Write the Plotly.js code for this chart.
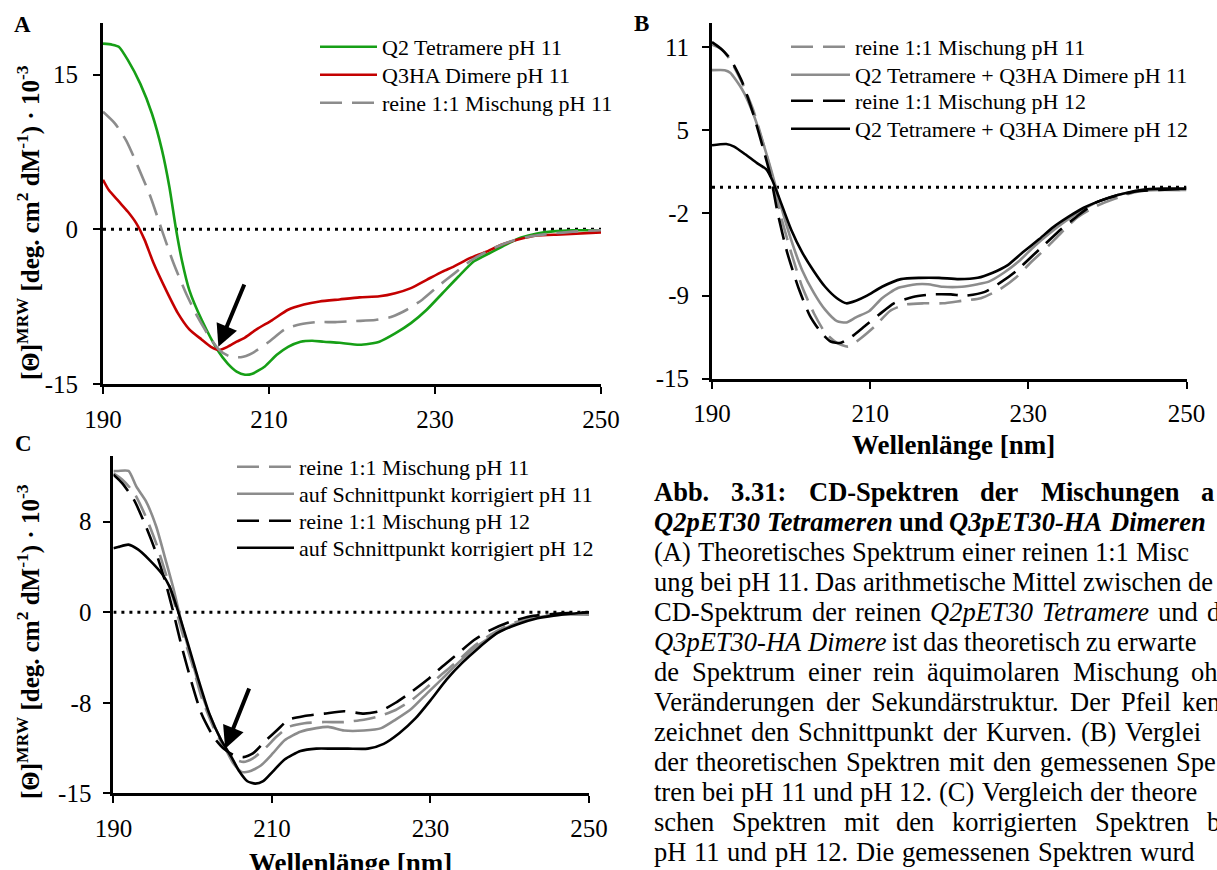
<!DOCTYPE html>
<html>
<head>
<meta charset="utf-8">
<script src="https://cdn.plot.ly/plotly-3.0.1.min.js"></script>
<style>
  html, body { margin: 0; padding: 0; background: #fff; }
  #chart { width: 1217px; height: 870px; }
</style>
</head>
<body>
<div id="chart"></div>
<script>
// ---------------- DATA ----------------
const xTickVals = [190, 210, 230, 250];
const xTickText = ['190', '210', '230', '250'];
const aYTickVals = [-15, 0, 15];
const aYTickText = ['-15', '0', '15'];
const bYTickVals = [-15, -8.5, -2, 4.5, 11];
const bYTickText = ['-15', '-9', '-2', '5', '11'];
const cYTickVals = [-15, -7.5, 0, 7.5];
const cYTickText = ['-15', '-8', '0', '8'];
const zeroX = [190, 250];
const zeroY = [0, 0];

// Panel A
const aQ2X = [190,191.1,191.9,193.0,194.5,195.9,197.1,198.0,198.8,199.5,200.4,201.9,203.8,205.0,206.1,207.1,208.0,209.5,210.9,212.3,213.8,215.2,216.6,218.5,220.9,223.3,225.2,227.1,229.0,230.9,232.8,234.7,236.6,238.5,240.4,242.3,244.2,246.6,250];
const aQ2Y = [18.0,17.9,17.7,16.4,14.1,11.2,7.7,4.1,0,-3.0,-5.9,-8.8,-11.7,-13.0,-13.8,-14.1,-14.0,-13.3,-12.2,-11.4,-10.9,-10.8,-10.9,-11.0,-11.2,-10.9,-10.1,-9.1,-7.8,-6.2,-4.6,-3.1,-2.3,-1.5,-0.8,-0.4,-0.2,-0.1,-0.1];
const aQ3X = [190,190.7,191.9,193.0,194.0,195.0,196.1,197.6,199.0,200.4,201.9,203.0,204.0,205.0,206.1,207.1,208.5,210.4,212.3,214.2,216.1,218.5,220.9,223.3,225.2,227.1,229.0,230.9,232.3,234.2,236.1,238.0,240.0,242.3,245.2,250];
const aQ3Y = [4.8,3.8,2.7,1.7,0.6,-1.0,-3.3,-5.9,-8.1,-9.7,-10.7,-11.4,-11.7,-11.4,-10.9,-10.5,-9.7,-8.8,-7.8,-7.3,-7.0,-6.8,-6.6,-6.5,-6.2,-5.7,-4.9,-4.1,-3.6,-2.8,-2.2,-1.5,-1.0,-0.6,-0.5,-0.3];
const aMixX = [190,191.4,192.8,194.2,195.7,197.1,198.5,200.0,201.4,202.8,204.0,205.2,206.6,208.0,210.0,211.9,213.8,215.7,218.0,220.4,222.8,224.7,226.6,228.5,230.4,232.3,234.2,236.6,239.0,241.4,244.2,247.1,250];
const aMixY = [11.4,10.3,8.6,6.1,3.2,-0.1,-3.3,-6.2,-8.5,-10.4,-11.7,-12.3,-12.4,-12.0,-10.9,-9.7,-9.2,-9.0,-9.0,-8.9,-8.8,-8.5,-7.8,-6.8,-5.5,-4.3,-3.1,-2.0,-1.2,-0.7,-0.4,-0.2,-0.1];

// Panel B
const bMix11X = [190,191.3,192.3,193.8,195.2,196.6,197.6,198.6,200.0,201.4,202.9,204.3,205.8,207.2,208.7,210.6,212.5,214.4,216.8,219.2,221.6,224.0,226.4,228.4,230.3,232.2,234.1,236.1,238.5,240.9,243.3,245.7,250];
const bMix11Y = [11.2,10.8,10.0,8.2,6.1,3.2,0.9,-2.0,-5.1,-7.8,-9.9,-11.4,-12.2,-12.5,-11.9,-10.9,-9.7,-9.2,-9.1,-9.1,-8.9,-8.7,-8.0,-7.1,-5.9,-4.8,-3.6,-2.4,-1.5,-0.9,-0.4,-0.2,-0.2];
const bMeas11X = [190,191.6,192.3,193.8,195.2,196.6,197.6,198.6,200.0,201.4,202.9,204.3,205.8,207.0,208.2,209.9,211.5,213.5,215.9,217.3,219.2,221.6,223.6,225.0,226.9,228.8,230.8,232.7,234.6,236.5,238.9,241.3,243.8,246.6,250];
const bMeas11Y = [9.2,9.2,9.0,7.7,5.8,3.2,1.1,-1.2,-4.1,-6.5,-8.3,-9.6,-10.5,-10.6,-10.2,-9.7,-8.7,-7.9,-7.6,-7.6,-7.8,-7.8,-7.6,-7.4,-6.7,-5.8,-4.6,-3.6,-2.7,-1.9,-1.1,-0.6,-0.3,-0.2,-0.2];
const bMix12X = [190,191.1,192.3,193.8,195.2,196.4,197.4,198.3,199.5,201.0,202.4,203.8,205.0,206.3,207.7,209.1,211.1,213.0,215.4,217.8,220.2,222.1,224.5,226.4,228.4,230.3,232.2,234.1,236.1,238.5,240.9,243.8,246.6,250];
const bMix12Y = [11.4,10.9,10.1,8.3,5.8,3.2,0.9,-2.0,-5.1,-8.0,-10.1,-11.4,-12.1,-12.2,-11.7,-11.0,-10.0,-9.1,-8.6,-8.4,-8.4,-8.5,-8.2,-7.5,-6.6,-5.5,-4.4,-3.3,-2.3,-1.2,-0.7,-0.3,-0.2,-0.1];
const bMeas12X = [190,191.8,192.8,194.2,195.7,196.9,197.6,198.6,200.0,201.4,202.9,204.3,205.8,207.0,208.2,209.6,211.5,213.9,216.3,218.7,221.2,223.6,225.5,227.4,229.3,231.3,233.2,235.1,237.0,238.9,241.3,244.2,247.1,250];
const bMeas12Y = [3.3,3.4,3.2,2.6,1.9,1.4,0.6,-1.0,-3.3,-5.1,-6.6,-7.8,-8.7,-9.1,-8.9,-8.5,-7.8,-7.2,-7.1,-7.1,-7.2,-7.1,-6.7,-6.1,-5.1,-4.1,-3.1,-2.3,-1.6,-1.1,-0.6,-0.2,-0.1,-0.1];

// Panel C
const cMix11X = [190,191.1,192.6,194.1,195.4,196.6,197.6,198.6,199.9,201.1,202.6,203.9,205.1,206.4,207.6,209.1,210.6,212.1,214.1,216.6,219.1,221.6,223.6,225.6,227.6,229.6,231.5,233.5,235.5,237.5,240.0,242.5,245.5,250];
const cMix11Y = [11.5,11.0,9.9,7.9,5.7,3.2,1.0,-1.5,-4.2,-7.0,-9.5,-11.1,-12.1,-12.4,-12.1,-11.3,-10.3,-9.5,-9.2,-9.1,-9.1,-8.9,-8.6,-8.1,-7.3,-6.2,-5.1,-4.0,-2.8,-1.9,-1.0,-0.5,-0.2,-0.1];
const cKor11X = [190,190.6,191.9,192.9,194.1,195.4,196.6,197.6,198.6,199.9,201.1,202.6,203.9,205.1,206.1,207.1,208.6,210.1,211.6,213.6,215.6,217.1,219.1,221.6,223.8,225.6,227.6,229.6,231.5,233.5,235.5,238.0,240.5,243.0,246.5,250];
const cKor11Y = [11.7,11.7,11.7,10.4,9.2,7.1,4.3,1.9,-0.9,-4.0,-6.7,-9.2,-11.0,-12.5,-13.2,-13.2,-12.7,-11.7,-10.6,-9.9,-9.6,-9.5,-9.8,-9.8,-9.6,-8.9,-8.0,-6.7,-5.5,-4.2,-3.0,-1.9,-1.0,-0.5,-0.2,-0.2];
const cMix12X = [190,191.1,192.6,194.1,195.4,196.6,197.6,198.6,199.9,201.1,202.6,203.9,205.1,206.4,207.6,209.1,210.6,212.1,214.1,216.6,219.1,221.6,223.6,225.6,227.6,229.6,231.5,233.5,235.5,237.5,240.0,243.0,246.5,250];
const cMix12Y = [11.4,10.7,9.3,7.1,4.9,2.4,-0.1,-2.8,-5.9,-8.4,-10.3,-11.3,-11.8,-12.0,-11.7,-10.7,-9.8,-8.9,-8.6,-8.4,-8.2,-8.4,-8.2,-7.5,-6.6,-5.6,-4.5,-3.4,-2.3,-1.5,-0.8,-0.3,-0.1,0];
const cKor12X = [190,190.6,191.9,193.1,194.6,196.1,197.1,198.1,199.4,200.6,202.1,203.6,204.9,205.9,206.9,207.9,208.9,210.1,211.6,213.6,215.6,217.6,219.6,222.1,224.1,226.1,228.1,230.0,232.0,234.0,236.0,238.5,241.0,243.5,246.5,250];
const cKor12Y = [5.3,5.4,5.6,5.2,4.3,3.2,2.1,0.2,-2.6,-5.3,-8.4,-10.6,-12.0,-13.2,-14.0,-14.2,-14.0,-13.2,-12.2,-11.5,-11.3,-11.3,-11.3,-11.3,-10.9,-10.0,-8.8,-7.3,-5.6,-4.2,-3.0,-1.7,-1.0,-0.5,-0.2,0];

// Arrows (tail -> tip), data units
const arrowA = {tailX: 207.1, tailY: -5.2, tipX: 203.9, tipY: -11.4};
const arrowC = {tailX: 207.2, tailY: -6.2, tipX: 204.1, tipY: -11.3};

// Legend labels
const legendA = ['Q2 Tetramere pH 11', 'Q3HA Dimere pH 11', 'reine 1:1 Mischung pH 11'];
const legendB = ['reine 1:1 Mischung pH 11', 'Q2 Tetramere + Q3HA Dimere pH 11', 'reine 1:1 Mischung pH 12', 'Q2 Tetramere + Q3HA Dimere pH 12'];
const legendC = ['reine 1:1 Mischung pH 11', 'auf Schnittpunkt korrigiert pH 11', 'reine 1:1 Mischung pH 12', 'auf Schnittpunkt korrigiert pH 12'];

const yTitleText = '<b>[Θ]<sup>MRW</sup> [deg. cm<sup>2</sup> dM<sup>-1</sup>) · 10<sup>-3</sup></b>';
const xTitleText = '<b>Wellenlänge [nm]</b>';

// Caption lines: prefix b: bold, bi: bold italic, i: italic
const captionLines = [
  ['b:Abb.', 'b:3.31:', 'b:CD-Spektren', 'b:der', 'b:Mischungen', 'b:a'],
  ['bi:Q2pET30', 'bi:Tetrameren', 'b:und', 'bi:Q3pET30-HA', 'bi:Dimeren'],
  ['(A)', 'Theoretisches', 'Spektrum', 'einer', 'reinen', '1:1', 'Misc'],
  ['ung', 'bei', 'pH', '11.', 'Das', 'arithmetische', 'Mittel', 'zwischen', 'de'],
  ['CD-Spektrum', 'der', 'reinen', 'i:Q2pET30', 'i:Tetramere', 'und', 'd'],
  ['i:Q3pET30-HA', 'i:Dimere', 'ist', 'das', 'theoretisch', 'zu', 'erwarte'],
  ['de', 'Spektrum', 'einer', 'rein', 'äquimolaren', 'Mischung', 'oh'],
  ['Veränderungen', 'der', 'Sekundärstruktur.', 'Der', 'Pfeil', 'ken'],
  ['zeichnet', 'den', 'Schnittpunkt', 'der', 'Kurven.', '(B)', 'Verglei'],
  ['der', 'theoretischen', 'Spektren', 'mit', 'den', 'gemessenen', 'Spe'],
  ['tren', 'bei', 'pH', '11', 'und', 'pH', '12.', '(C)', 'Vergleich', 'der', 'theore'],
  ['schen', 'Spektren', 'mit', 'den', 'korrigierten', 'Spektren', 'b'],
  ['pH', '11', 'und', 'pH', '12.', 'Die', 'gemessenen', 'Spektren', 'wurd']
];
const captionLastWordX = [1200, 1108, 1135, 1186.5, 1205.6, 1112.4, 1190.3, 1180.8, 1123.8, 1175.1, 1129.5, 1205.6, 1139];

// ---------------- LAYOUT HELPERS ----------------
const W = 1217, H = 870;
const px = v => v / W;
const py = v => 1 - v / H;
const FONT = 'Liberation Serif, serif';
const GREEN = '#169f16', RED = '#c40000', GREY = '#8c8c8c', BLACK = '#000000';
const DASH = '22px,10px';

function line(x, y, xa, ya, color, dash, width, name, legendId) {
  return {
    type: 'scatter', mode: 'lines', x: x, y: y, xaxis: xa, yaxis: ya, name: name,
    line: {color: color, width: width, dash: dash, shape: 'spline', smoothing: 0.6},
    showlegend: !!legendId, legend: legendId || 'legend', hoverinfo: 'skip'
  };
}
function zero(xa, ya) {
  return {type: 'scatter', mode: 'lines', x: zeroX, y: zeroY, xaxis: xa, yaxis: ya,
    line: {color: BLACK, width: 3, dash: '3px,5px'}, showlegend: false, hoverinfo: 'skip'};
}

const traces = [
  zero('x', 'y'), zero('x2', 'y2'), zero('x3', 'y3'),
  line(aQ2X, aQ2Y, 'x', 'y', GREEN, 'solid', 2.6, legendA[0], 'legend'),
  line(aQ3X, aQ3Y, 'x', 'y', RED, 'solid', 2.6, legendA[1], 'legend2'),
  line(aMixX, aMixY, 'x', 'y', GREY, DASH, 2.6, legendA[2], 'legend3'),
  line(bMix11X, bMix11Y, 'x2', 'y2', GREY, DASH, 2.6, legendB[0], 'legend4'),
  line(bMeas11X, bMeas11Y, 'x2', 'y2', GREY, 'solid', 2.6, legendB[1], 'legend5'),
  line(bMix12X, bMix12Y, 'x2', 'y2', BLACK, DASH, 2.6, legendB[2], 'legend6'),
  line(bMeas12X, bMeas12Y, 'x2', 'y2', BLACK, 'solid', 2.6, legendB[3], 'legend7'),
  line(cMix11X, cMix11Y, 'x3', 'y3', GREY, DASH, 2.6, legendC[0], 'legend8'),
  line(cKor11X, cKor11Y, 'x3', 'y3', GREY, 'solid', 2.6, legendC[1], 'legend9'),
  line(cMix12X, cMix12Y, 'x3', 'y3', BLACK, DASH, 2.6, legendC[2], 'legend10'),
  line(cKor12X, cKor12Y, 'x3', 'y3', BLACK, 'solid', 2.6, legendC[3], 'legend11')
];

function xAxis(domain, anchor, standoff) {
  return {domain: domain, anchor: anchor, range: [190, 250], tickmode: 'array',
    tickvals: xTickVals, ticktext: xTickText, showline: true, linecolor: BLACK, linewidth: 3,
    ticks: 'outside', ticklen: 7, tickwidth: 2, tickcolor: BLACK, showgrid: false, zeroline: false,
    ticklabelstandoff: standoff, tickfont: {family: FONT, size: 25, color: BLACK}, fixedrange: true};
}
function yAxis(domain, anchor, range, vals, text, standoff) {
  return {domain: domain, anchor: anchor, range: range, tickmode: 'array',
    tickvals: vals, ticktext: text, showline: true, linecolor: BLACK, linewidth: 3,
    ticks: 'outside', ticklen: 7, tickwidth: 2, tickcolor: BLACK, showgrid: false, zeroline: false,
    ticklabelstandoff: standoff, tickfont: {family: FONT, size: 25, color: BLACK}, fixedrange: true};
}

const layout = {
  width: W, height: H, margin: {l: 0, r: 0, t: 0, b: 0},
  paper_bgcolor: '#ffffff', plot_bgcolor: 'rgba(0,0,0,0)',
  font: {family: FONT, color: BLACK},
  xaxis: xAxis([px(103), px(601)], 'y', 4),
  yaxis: yAxis([py(384), py(23)], 'x', [-15, 20], aYTickVals, aYTickText, 10),
  xaxis2: xAxis([px(712), px(1186.5)], 'y2', 3),
  yaxis2: yAxis([py(378.5), py(23)], 'x2', [-15, 12.9], bYTickVals, bYTickText, 8),
  xaxis3: xAxis([px(113.4), px(589)], 'y3', 4),
  yaxis3: yAxis([py(793.3), py(456)], 'x3', [-15, 12.94], cYTickVals, cYTickText, 7),
  annotations: [],
  shapes: []
};

// Legends: one per row for exact row positions
const legendRows = [
  // [id, lineStartX, rowY, itemwidth]
  ['legend', 320, 47, 57], ['legend2', 320, 75, 57], ['legend3', 320, 103, 57],
  ['legend4', 791, 47, 59], ['legend5', 791, 75, 59], ['legend6', 791, 101, 59], ['legend7', 791, 129, 59],
  ['legend8', 237, 467, 57], ['legend9', 237, 494, 57], ['legend10', 237, 521, 57], ['legend11', 237, 548, 57]
];
legendRows.forEach(r => {
  layout[r[0]] = {x: px(r[1] - 5), y: py(r[2]), xanchor: 'left', yanchor: 'middle',
    bgcolor: 'rgba(0,0,0,0)', borderwidth: 0, itemwidth: r[3], itemclick: false, itemdoubleclick: false,
    font: {family: FONT, size: 22, color: BLACK}};
});

// Arrows
[[arrowA, 'x', 'y'], [arrowC, 'x3', 'y3']].forEach(a => {
  layout.annotations.push({x: a[0].tipX, y: a[0].tipY, ax: a[0].tailX, ay: a[0].tailY,
    xref: a[1], yref: a[2], axref: a[1], ayref: a[2], showarrow: true, text: '',
    arrowhead: 2, arrowsize: 1.1, arrowwidth: 4, arrowcolor: BLACK});
});

// Panel letters
[['A', 22.5, 24], ['B', 641, 23.5], ['C', 23, 443]].forEach(l => {
  layout.annotations.push({text: '<b>' + l[0] + '</b>', xref: 'paper', yref: 'paper',
    x: px(l[1]), y: py(l[2]), xanchor: 'center', yanchor: 'middle', showarrow: false,
    font: {family: FONT, size: 23, color: BLACK}});
});

// Axis titles
[[28, 223], [28, 642]].forEach(p => {
  layout.annotations.push({text: yTitleText, textangle: -90, xref: 'paper', yref: 'paper',
    x: px(p[0]), y: py(p[1]), xanchor: 'center', yanchor: 'middle', showarrow: false,
    font: {family: FONT, size: 25, color: BLACK}});
});
[[953, 445], [350, 863]].forEach(p => {
  layout.annotations.push({text: xTitleText, xref: 'paper', yref: 'paper',
    x: px(p[0]), y: py(p[1]), xanchor: 'center', yanchor: 'middle', showarrow: false,
    font: {family: FONT, size: 27, color: BLACK}});
});

// Caption: justified word placement, widths measured with the DOM
const CAP_SIZE = 26.5, CAP_X0 = 653, CAP_Y0 = 492, CAP_DY = 30;
function parseWord(w) {
  let style = '', t = w;
  const m = w.match(/^(bi|b|i):(.*)$/);
  if (m) { style = m[1]; t = m[2]; }
  return {style: style, text: t};
}
const meas = document.createElement('span');
meas.style.cssText = 'position:absolute;left:-5000px;top:0;white-space:pre;visibility:hidden;font-family:"Liberation Serif",serif;font-size:' + CAP_SIZE + 'px;';
document.body.appendChild(meas);
function measure(wd) {
  meas.style.fontWeight = wd.style.indexOf('b') >= 0 ? 'bold' : 'normal';
  meas.style.fontStyle = wd.style.indexOf('i') >= 0 ? 'italic' : 'normal';
  meas.textContent = wd.text;
  return meas.getBoundingClientRect().width;
}
captionLines.forEach((ln, i) => {
  const words = ln.map(parseWord);
  const widths = words.map(measure);
  let sum = 0;
  for (let k = 0; k < words.length - 1; k++) sum += widths[k];
  const gap = Math.max(6, (captionLastWordX[i] - CAP_X0 - sum) / (words.length - 1));
  let x = CAP_X0;
  words.forEach((wd, k) => {
    let t = wd.text;
    if (wd.style === 'b') t = '<b>' + t + '</b>';
    else if (wd.style === 'bi') t = '<b><i>' + t + '</i></b>';
    else if (wd.style === 'i') t = '<i>' + t + '</i>';
    layout.annotations.push({text: t, xref: 'paper', yref: 'paper', x: px(x - 1), y: py(CAP_Y0 + CAP_DY * i),
      xanchor: 'left', yanchor: 'middle', showarrow: false, font: {family: FONT, size: CAP_SIZE, color: BLACK}});
    x += widths[k] + gap;
  });
});
document.body.removeChild(meas);

Plotly.newPlot('chart', traces, layout, {displayModeBar: false, staticPlot: true});
</script>
</body>
</html>
